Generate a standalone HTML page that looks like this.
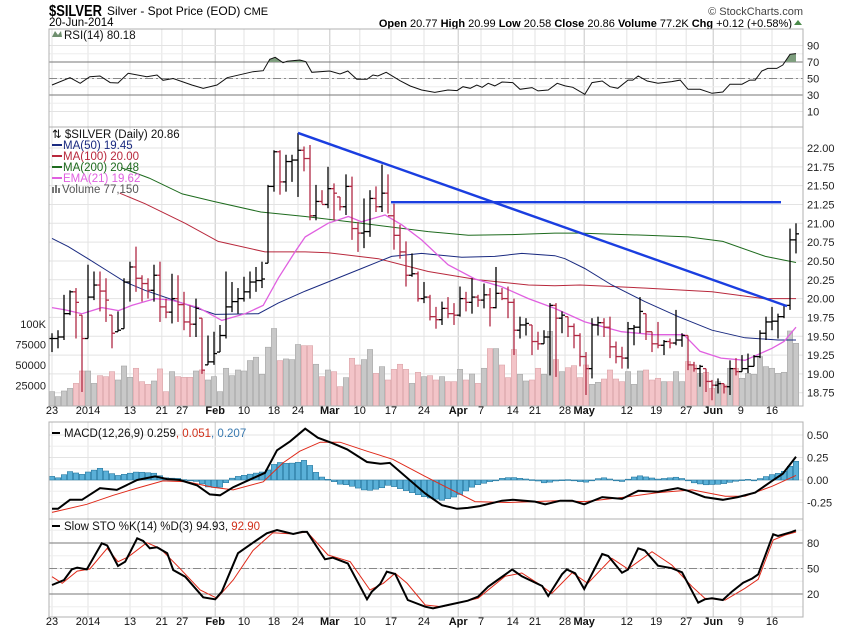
<!DOCTYPE html>
<html><head><meta charset="utf-8"><style>
body{margin:0;background:#fff;}
svg{display:block;font-family:"Liberation Sans",sans-serif;}
</style></head><body>
<svg id="chart" width="850" height="633" viewBox="0 0 850 633" xmlns="http://www.w3.org/2000/svg">
<g>
<text x="49" y="16" font-size="16" font-weight="bold" textLength="53" lengthAdjust="spacingAndGlyphs">$SILVER</text>
<text x="107" y="15" font-size="12">Silver - Spot Price (EOD) <tspan font-size="11">CME</tspan></text>
<text x="49" y="26" font-size="11.5">20-Jun-2014</text>
<text x="803" y="15" font-size="11" fill="#444" text-anchor="end">© StockCharts.com</text>
<text x="792" y="27" font-size="11" text-anchor="end"><tspan font-weight="bold">Open</tspan> 20.77  <tspan font-weight="bold">High</tspan> 20.99  <tspan font-weight="bold">Low</tspan> 20.58  <tspan font-weight="bold">Close</tspan> 20.86  <tspan font-weight="bold">Volume</tspan> 77.2K  <tspan font-weight="bold">Chg</tspan> +0.12 (+0.58%)</text>
<polygon points="794,25 802,25 798,20" fill="#4a8a4a"/>
</g>
<g id="layer"></g>
</svg>
<script>
const hi=[19.54,19.58,20.05,20.11,20.14,19.78,20.45,20.36,20.36,20.27,19.78,19.83,20.27,20.49,20.69,20.31,20.27,20.45,20.49,20.00,20.33,20.31,20.09,19.91,20.00,19.74,19.51,19.56,19.65,20.36,20.22,20.14,20.29,20.36,20.42,20.49,21.51,21.97,21.97,21.91,21.91,22.20,
22.02,22.04,21.51,21.44,21.75,21.53,21.35,21.65,21.62,21.02,21.33,21.44,21.49,21.78,21.65,21.26,20.98,20.76,20.60,20.36,20.22,20.05,19.89,19.96,20.02,19.94,20.16,20.09,20.27,20.05,20.20,20.14,20.42,20.14,20.16,20.00,19.76,19.74,19.65,19.56,19.58,19.94,
19.94,19.83,19.76,19.67,19.54,19.29,19.74,19.76,19.74,19.76,19.43,19.36,19.69,19.65,20.02,19.80,19.56,19.69,19.45,19.47,19.85,19.54,19.51,19.16,19.12,19.07,18.92,18.94,18.87,19.18,19.21,19.25,19.27,19.25,19.58,19.76,19.89,19.80,19.91,20.93,21.00];
const lo=[19.29,19.34,19.45,19.78,19.47,18.76,19.47,19.98,19.83,19.69,19.34,19.56,19.60,19.96,20.09,19.96,20.00,19.96,19.69,19.74,19.67,19.69,19.58,19.49,19.49,19.00,19.12,19.12,19.29,19.47,19.82,19.80,19.96,20.00,20.09,20.14,20.47,21.42,21.38,21.42,21.55,21.35,
21.69,21.04,21.04,21.26,21.20,21.04,21.17,21.11,20.78,20.62,20.67,20.82,21.15,21.15,21.13,20.65,20.53,20.16,20.29,19.96,19.94,19.71,19.60,19.65,19.74,19.65,19.76,19.83,19.80,19.89,19.87,19.63,19.87,19.98,19.74,19.25,19.47,19.51,19.25,19.32,19.40,18.98,
18.96,19.54,19.49,19.34,19.10,18.72,18.94,19.51,19.49,19.21,19.14,19.07,19.07,19.38,19.54,19.45,19.29,19.34,19.25,19.34,19.38,19.36,19.05,19.03,18.83,18.76,18.65,18.74,18.74,18.72,18.98,19.03,19.01,19.10,19.21,19.45,19.58,19.47,19.74,19.85,20.60];
const cl=[19.47,19.49,19.80,20.09,19.95,19.47,20.02,20.18,20.10,19.98,19.54,19.58,20.22,20.42,20.27,20.20,20.11,20.31,19.89,19.82,20.00,19.92,19.69,19.66,19.87,19.05,19.16,19.27,19.51,19.89,19.96,20.00,20.09,20.22,20.24,20.26,21.49,21.95,21.55,21.82,21.84,21.97,
21.86,21.10,21.29,21.25,21.46,21.40,21.22,21.49,20.93,20.87,20.89,21.33,21.22,21.40,21.10,20.84,20.62,20.31,20.33,20.00,20.02,19.76,19.72,19.87,19.80,19.78,20.00,19.95,20.02,19.98,20.05,19.88,20.07,20.00,19.95,19.58,19.65,19.67,19.43,19.40,19.49,19.91,
19.74,19.78,19.63,19.51,19.23,19.07,19.65,19.68,19.62,19.36,19.23,19.21,19.60,19.62,19.83,19.56,19.40,19.38,19.43,19.41,19.45,19.51,19.12,19.07,19.10,18.90,18.85,18.87,18.83,19.07,19.03,19.07,19.10,19.23,19.54,19.69,19.70,19.76,19.91,20.78,20.86];
const volK=[17.5,11.4,18.3,21.5,27.6,42.7,42.7,27.6,37,35.8,41.9,31.7,48.8,35,46,29.7,26.4,30.5,45.2,17.5,41.9,35.8,35,35,42.7,44,31.7,35.8,17.5,46,37,43.9,42.7,55.4,59.5,38.6,71.7,94.5,55.4,57.4,56.6,75,
73.6,73.6,50.9,35.8,43.9,41.9,23.6,34.6,58.2,50,56.6,68.9,39.8,48,31.7,44.7,50.9,44.7,27.6,41.1,35.8,37,31.7,35.8,29.7,29.7,44.7,31.7,39,27.6,46,70,70,50,34.6,68.9,38.6,30.5,31.7,46,38.6,91,
56.6,41.9,46.7,49.2,34.6,50,26.4,28.9,32.9,43.9,32.9,29.7,41.9,26.4,42.7,43.9,31.7,33.8,29.7,29.7,41.9,29.7,54.2,50,39.8,41.1,21.5,29.7,25.6,46,46,33.8,39.8,38.6,60.3,48,46,39.8,41.1,91.5,76.4];
const ma50Idx=[0,2.7,6,9.4,12.2,15.5,21,25,27.2,34.4,37.7,42.2,46,51.6,56.6,61.6,68.3,73.8,78.3,83.8,85.5,88.8,93.3,98.8,104.4,110,115.5,121,124];
const ma50Val=[20.80,20.69,20.53,20.36,20.22,20.11,19.96,19.85,19.79,19.80,19.94,20.10,20.22,20.40,20.56,20.60,20.55,20.56,20.60,20.57,20.53,20.40,20.18,19.96,19.76,19.58,19.48,19.45,19.45];
const ma100Idx=[11.3,15.5,22.2,27.7,35.5,42.2,46,54.4,62.7,71,79.4,83.8,88,99,110,118.6,124];
const ma100Val=[21.40,21.26,21.00,20.76,20.62,20.62,20.61,20.53,20.36,20.25,20.18,20.17,20.18,20.14,20.09,20.00,20.00];
const ma200Idx=[11.5,16.2,21.7,27,34.8,42.2,51.6,62.7,69.4,76.6,83.8,88,99,106,111.8,118.9,124];
const ma200Val=[21.74,21.60,21.39,21.29,21.15,21.09,21.00,20.89,20.84,20.85,20.87,20.87,20.84,20.82,20.76,20.56,20.48];
const emaIdx=[0,2.2,5,8.3,11.1,13.3,17.2,19.9,24.4,28.3,32.2,35.2,37.7,40.5,42.2,46,49.4,51.6,55.5,58.3,61.6,66,70.5,74.9,79.4,83.8,88.8,94.9,100.3,105.3,108,111.5,115.5,120,122,124];
const emaVal=[19.88,19.85,19.80,19.88,19.84,19.91,20.00,19.98,19.88,19.71,19.80,19.91,20.27,20.62,20.82,21.00,21.09,21.02,21.11,20.98,20.78,20.45,20.26,20.16,20.00,19.87,19.69,19.56,19.52,19.52,19.30,19.21,19.18,19.34,19.43,19.62];
const rsiIdx=[0,3,4.7,6.3,8,9.7,11,12.7,15.8,17.5,18.5,20.2,23.3,25.2,27.5,29.2,33.5,35.2,36.3,37.2,38.5,39.2,41.3,42.3,43.3,46.3,48,49.3,50.8,52.5,53.5,54.3,55.7,58,59.7,61.6,63.8,66,67.5,68.5,69.7,70.8,71.7,72.7,73.8,75,76.8,78,80,81,82.7,84.2,85.5,86.8,88.8,90,91.7,93,94.3,96,96.8,97.7,99.2,101,103.3,104.7,106,108,110,111.8,113,115,116.3,117.2,118.3,119.3,120.8,121.8,123,124];
const rsiVal=[42.1,51,44.2,52.2,53,45,44.6,56.3,52.2,54.2,47.8,50,42.1,38.1,42.1,51,58.3,59.5,73.3,75.7,69.2,70.8,72.4,70.4,57.5,59.1,55.4,59.1,49,49,54.2,53,57.5,47.3,40.9,36.1,33.2,36.1,35.3,40.1,38.1,42.1,39.3,44.2,41,45.8,45,36.9,39,35,36.1,44.2,41,39.3,30.8,45,47,40.1,38.1,48.1,48.1,53,47,44.2,46.2,48.1,36.9,36.9,32,33.6,43.1,43.1,48.1,48.1,59.1,62.3,62.3,66.4,79.3,80.2];
const macdIdx=[0,1,3,5,8,10.8,14.2,17.2,19.2,21.3,24.2,26.3,28,30.2,33.5,35.5,37.5,39.7,42.2,44.3,46.7,49.2,52.5,54.7,56.3,62.2,65,67.5,69.3,71.3,75,76.8,80.5,82.2,84.7,86.7,88.7,91.7,95,97.7,101,104.3,106,108.8,111.8,114.3,117.2,120,121.8,124];
const macdVal=[-0.32,-0.32,-0.22,-0.22,-0.09,-0.11,0.00,0.04,0.01,0.00,-0.06,-0.16,-0.17,-0.08,0.02,0.08,0.33,0.43,0.57,0.47,0.41,0.34,0.20,0.18,0.19,-0.15,-0.28,-0.32,-0.31,-0.29,-0.23,-0.22,-0.24,-0.27,-0.23,-0.23,-0.27,-0.19,-0.21,-0.12,-0.13,-0.09,-0.12,-0.19,-0.22,-0.19,-0.14,-0.01,0.07,0.259];
const sigIdx=[0,5.8,10.2,14.2,18.5,22.5,26.8,30.2,35.2,38.5,41.3,44.7,48,52.5,56.8,62.2,67.2,70.5,76,84.3,88.8,95.5,101,106.7,112.2,115.5,120,124];
const sigVal=[-0.36,-0.27,-0.17,-0.09,-0.01,-0.02,-0.08,-0.11,-0.02,0.19,0.32,0.42,0.42,0.32,0.23,0.04,-0.13,-0.24,-0.25,-0.23,-0.24,-0.19,-0.14,-0.11,-0.18,-0.18,-0.07,0.051];
const kIdx=[0,2,3.3,4.2,5.8,8.3,9.2,11,12.2,14.2,15.2,16.3,17.5,19.2,20.2,22.2,25.2,27.2,28.3,31,33.5,35.8,37.5,40.2,41.7,42.5,45.5,46.8,49.3,52.5,53.3,54.7,55.8,57.2,59.3,62.2,63.5,66,69.3,71,72.7,75.2,76.7,78.3,81.7,82.7,85,85.8,87.2,88.7,91.7,92.7,95,96,97.7,98.8,101,103.3,105,107.7,108.8,110,111.8,113.3,115.2,116.7,117.7,120.2,121,123.3,124];
const kVal=[30.6,36.5,49,51,49,79.6,77,53,58,85.5,82.4,73.8,75,68,48.2,40.4,16.1,13.8,22.7,68,80.4,91.4,95.3,90.6,93.1,93.1,60.8,62.7,56,13.8,22.7,31.8,46.2,43.5,13,5.1,3.2,7.1,12.1,16.8,28.6,41.2,48.8,40.8,29.4,17.6,43.2,48.8,44.3,25.9,67,64.7,45.1,48.8,73.8,71.2,53.3,50.4,45.5,9.8,13.8,15,13,22.7,33.3,38.2,43.2,90.2,88.2,93.1,94.93];
const dIdx=[0,1.7,4.2,6.3,9.2,11,12.7,15.8,18,21.3,24.7,27.5,30.2,33.5,36.8,40.2,42.5,46,49.7,53,55.2,57.2,59.2,62.2,65,71,75.5,78.3,81,83.3,86.7,89.3,93.3,96,100,103.3,106.7,108.8,112.2,115.5,117.7,120.2,122.2,124];
const dVal=[40.4,32.6,46.9,49.4,73.8,58,63.7,80.4,73.8,50.2,24.7,14.9,36.5,71.2,92.1,90.6,93.1,65.9,58,24.7,32.5,44.3,32.5,7.1,5.1,15,40.8,44.7,32.5,20.8,45.1,32.5,62,49.4,69.8,54.1,28.6,15,13,26.7,37.3,83.5,89.4,92.9];
const xTickIdx=[0,6,13,18.3,21.7,27.2,32,37,41,46.3,51.3,56.5,62,67.7,71.5,76.8,80.5,85.5,88.7,95.8,100.7,105.7,110.2,114.8,120];
const xTickLbl=["23","2014","13","21","27","Feb","10","18","24","Mar","10","17","24","Apr","7","14","21","28","May","12","19","27","Jun","9","16"];
const priceTicks=[18.75,19.00,19.25,19.50,19.75,20.00,20.25,20.50,20.75,21.00,21.25,21.50,21.75,22.00];
const volTicks=[25,50,75,100];
const volTickLbl=["25000","50000","75000","100K"];
const rsiTicks=[10,30,50,70,90];
const macdTicks=[-0.25,0,0.25,0.5];
const stoTicks=[20,50,80];
const downTrend=[41,22.20,122.5,19.90];
const resistance=[56.5,121.5,21.28];

const NS="http://www.w3.org/2000/svg";
const layer=document.getElementById('layer');
const L=49,R=803;
const P={rsi:[29,127],price:[127,406],macd:[422,519],sto:[519,617]};
const X=i=>52+i*6;
const yRsi=v=>62+(70-v)*0.825;
const yPrice=p=>148+(22-p)*75.3;
const yVol=v=>406-v*0.82;
const yMacd=v=>480-v*90;
const ySto=v=>568.5-(v-50)*0.85;
function el(tag,attrs,parent){const e=document.createElementNS(NS,tag);for(const k in attrs)e.setAttribute(k,attrs[k]);(parent||layer).appendChild(e);return e;}
function txt(x,y,s,attrs,parent){const t=el('text',Object.assign({x:x,y:y,'font-size':11},attrs||{}),parent);t.textContent=s;return t;}
function interp(idx,val,i){if(i<=idx[0])return val[0];for(let k=1;k<idx.length;k++){if(i<=idx[k]){const t=(i-idx[k-1])/(idx[k]-idx[k-1]);return val[k-1]+t*(val[k]-val[k-1]);}}return val[val.length-1];}
function pts(idx,val,yf){return idx.map((d,k)=>X(d).toFixed(1)+','+yf(val[k]).toFixed(1)).join(' ');}

const defs=el('defs',{});
for(const k in P){const c=el('clipPath',{id:'clip-'+k},defs);el('rect',{x:L,y:P[k][0],width:R-L,height:P[k][1]-P[k][0]},c);}
const ca=el('clipPath',{id:'clip-ob'},defs);el('rect',{x:L,y:P.rsi[0],width:R-L,height:yRsi(70)-P.rsi[0]},ca);

function panel(name,yr,hTicks,yf,lblFn){
  const g=el('g',{});
  
  
  el('rect',{x:L,y:yr[0],width:R-L,height:yr[1]-yr[0],fill:'#fff'},g);
  xTickIdx.forEach((d,k)=>{const month=isNaN(+xTickLbl[k]);el('line',{x1:X(d),x2:X(d),y1:yr[0],y2:yr[1],stroke:month?'#c8c8c8':'#e3e3e3','stroke-width':1},g);});
  hTicks.forEach(v=>{el('line',{x1:L,x2:R,y1:yf(v),y2:yf(v),stroke:'#e3e3e3'},g);
    if(lblFn){const t=txt(807,yf(v)+4,lblFn(v),{fill:'#222'},g);}});
  return g;
}
const rsiG=panel('rsi',P.rsi,rsiTicks,yRsi,v=>String(v));
[20,40,60,80].forEach(v=>el('line',{x1:L,x2:R,y1:yRsi(v),y2:yRsi(v),stroke:'#eee'},rsiG));
el('line',{x1:L,x2:R,y1:yRsi(70),y2:yRsi(70),stroke:'#777'},rsiG);
el('line',{x1:L,x2:R,y1:yRsi(30),y2:yRsi(30),stroke:'#777'},rsiG);
el('line',{x1:L,x2:R,y1:yRsi(50),y2:yRsi(50),stroke:'#888','stroke-dasharray':'8,3,2,3'},rsiG);
const priceG=panel('price',P.price,priceTicks,yPrice,v=>v.toFixed(2));
volTicks.forEach((v,k)=>{const t=txt(46,yVol(v)+4,volTickLbl[k],{'text-anchor':'end',fill:'#222'},priceG);});
const macdG=panel('macd',P.macd,macdTicks,yMacd,v=>v.toFixed(2));
[-0.125,0.125,0.375].forEach(v=>el('line',{x1:L,x2:R,y1:yMacd(v),y2:yMacd(v),stroke:'#eee'},macdG));
const stoG=panel('sto',P.sto,stoTicks,ySto,v=>String(v));
[5,35,65,95].forEach(v=>el('line',{x1:L,x2:R,y1:ySto(v),y2:ySto(v),stroke:'#eee'},stoG));
el('line',{x1:L,x2:R,y1:ySto(80),y2:ySto(80),stroke:'#777'},stoG);
el('line',{x1:L,x2:R,y1:ySto(20),y2:ySto(20),stroke:'#777'},stoG);
el('line',{x1:L,x2:R,y1:ySto(50),y2:ySto(50),stroke:'#888','stroke-dasharray':'8,3,2,3'},stoG);

const rsiFill=el('polygon',{points:X(rsiIdx[0])+','+yRsi(70)+' '+pts(rsiIdx,rsiVal,yRsi)+' '+X(rsiIdx[rsiIdx.length-1])+','+yRsi(70),fill:'#7e9e7e','clip-path':'url(#clip-ob)'});


const rsiLine=el('polyline',{points:pts(rsiIdx,rsiVal,yRsi),fill:'none',stroke:'#111','stroke-width':1});



const n=Math.min(hi.length,lo.length,cl.length);
const volG=el('g',{'clip-path':'url(#clip-price)'});


for(let i=0;i<Math.min(n,volK.length);i++){
  const down=i>0&&cl[i]<cl[i-1];
  const r=el('rect',{x:X(i)-2.7,y:yVol(volK[i]),width:5.4,height:406-yVol(volK[i]),fill:down?'#f3c4c8':'#c8c8c8',stroke:down?'#dba6aa':'#a8a8a8','stroke-width':0.6},volG);
  
  
}
function line(idx,val,color,name,w){const p=el('polyline',{points:pts(idx,val,yPrice),fill:'none',stroke:color,'stroke-width':w||1,'clip-path':'url(#clip-price)'});return p;}
line(ma200Idx,ma200Val,'#1e6b1e','ma200-line');
line(ma100Idx,ma100Val,'#b8283c','ma100-line');
line(ma50Idx,ma50Val,'#1a2a80','ma50-line');
line(emaIdx,emaVal,'#e060e0','ema21-line',1.3);
const barG=el('g',{});


for(let i=0;i<n;i++){
  const down=i>0&&cl[i]<cl[i-1];
  const c=down?'#b02a44':'#000';
  const x=X(i);
  const g=el('g',{stroke:c,'stroke-width':1.3},barG);
  
  
  el('line',{x1:x,x2:x,y1:yPrice(hi[i]),y2:yPrice(lo[i])},g);
  el('line',{x1:x,x2:x+3,y1:yPrice(cl[i]),y2:yPrice(cl[i])},g);
  const op=i>0?cl[i-1]:cl[i];
  const oc=Math.min(hi[i],Math.max(lo[i],op));
  el('line',{x1:x-3,x2:x,y1:yPrice(oc),y2:yPrice(oc)},g);
}
const tl=el('line',{x1:X(downTrend[0]),y1:yPrice(downTrend[1]),x2:X(downTrend[2]),y2:yPrice(downTrend[3]),stroke:'#1a3ee0','stroke-width':2.4});


const rl=el('line',{x1:X(resistance[0]),y1:yPrice(resistance[2]),x2:X(resistance[1]),y2:yPrice(resistance[2]),stroke:'#1a3ee0','stroke-width':2.4});



const histG=el('g',{'clip-path':'url(#clip-macd)'});


for(let i=0;i<n;i++){
  const h=(interp(macdIdx,macdVal,i)-interp(sigIdx,sigVal,i))*1.0;
  const y0=yMacd(0),y1=yMacd(h);
  const r=el('rect',{x:X(i)-2.7,y:Math.min(y0,y1),width:5.4,height:Math.max(0.8,Math.abs(y1-y0)),fill:'#5ab0d8',stroke:'#2a7aa0','stroke-width':0.6},histG);
  
  
}
const sigL=el('polyline',{points:pts(sigIdx,sigVal,yMacd),fill:'none',stroke:'#e02a1a','stroke-width':1});


const macdL=el('polyline',{points:pts(macdIdx,macdVal,yMacd),fill:'none',stroke:'#000','stroke-width':2});



const dL=el('polyline',{points:pts(dIdx,dVal,ySto),fill:'none',stroke:'#e02a1a','stroke-width':1});


const kL=el('polyline',{points:pts(kIdx,kVal,ySto),fill:'none',stroke:'#000','stroke-width':2});



for(const k in P){const b=el('rect',{x:L,y:P[k][0],width:R-L,height:P[k][1]-P[k][0],fill:'none',stroke:'#b0b0b0'});}

[414,625].forEach(yy=>{xTickIdx.forEach((d,k)=>{const month=isNaN(+xTickLbl[k]);const t=txt(X(d),yy,xTickLbl[k],{'text-anchor':'middle','font-weight':month?'bold':'normal',fill:'#111'});});});

function legend(x,y,parts,name){const t=el('text',{x:x,y:y,'font-size':11.5});parts.forEach(p=>{const s=el('tspan',{fill:p[1]},t);s.textContent=p[0];});return t;}
el('polygon',{points:'52,37 55,31 58,35 61,31 62,37',fill:'#6e8e6e'});
legend(64,39,[['RSI(14) 80.18','#111']],'rsi-legend');
legend(52,138,[['⇅ $SILVER (Daily) 20.86','#111']],'price-legend');
const mal=[['MA(50) 19.45','#1a2a80'],['MA(100) 20.00','#b8283c'],['MA(200) 20.48','#1e6b1e'],['EMA(21) 19.62','#e060e0']];
mal.forEach((m,k)=>{const yy=149+k*11;el('line',{x1:52,x2:62,y1:yy-4,y2:yy-4,stroke:m[1],'stroke-width':2});legend(63,yy,[[m[0],m[1]]],'ma-legend-entry');});
el('rect',{x:52,y:187,width:2,height:6,fill:'#777'});el('rect',{x:55,y:185,width:2,height:8,fill:'#777'});el('rect',{x:58,y:188,width:2,height:5,fill:'#777'});
legend(62,193,[['Volume 77,150','#555']],'volume-legend');
el('line',{x1:52,x2:60,y1:433,y2:433,stroke:'#000','stroke-width':2});
legend(64,437,[['MACD(12,26,9) 0.259','#111'],[', 0.051','#d0301a'],[', 0.207','#3a7ab0']],'macd-legend');
el('line',{x1:52,x2:60,y1:526,y2:526,stroke:'#000','stroke-width':2});
legend(64,530,[['Slow STO %K(14) %D(3) 94.93, ','#111'],['92.90','#d0301a']],'sto-legend');
</script>
</body></html>
